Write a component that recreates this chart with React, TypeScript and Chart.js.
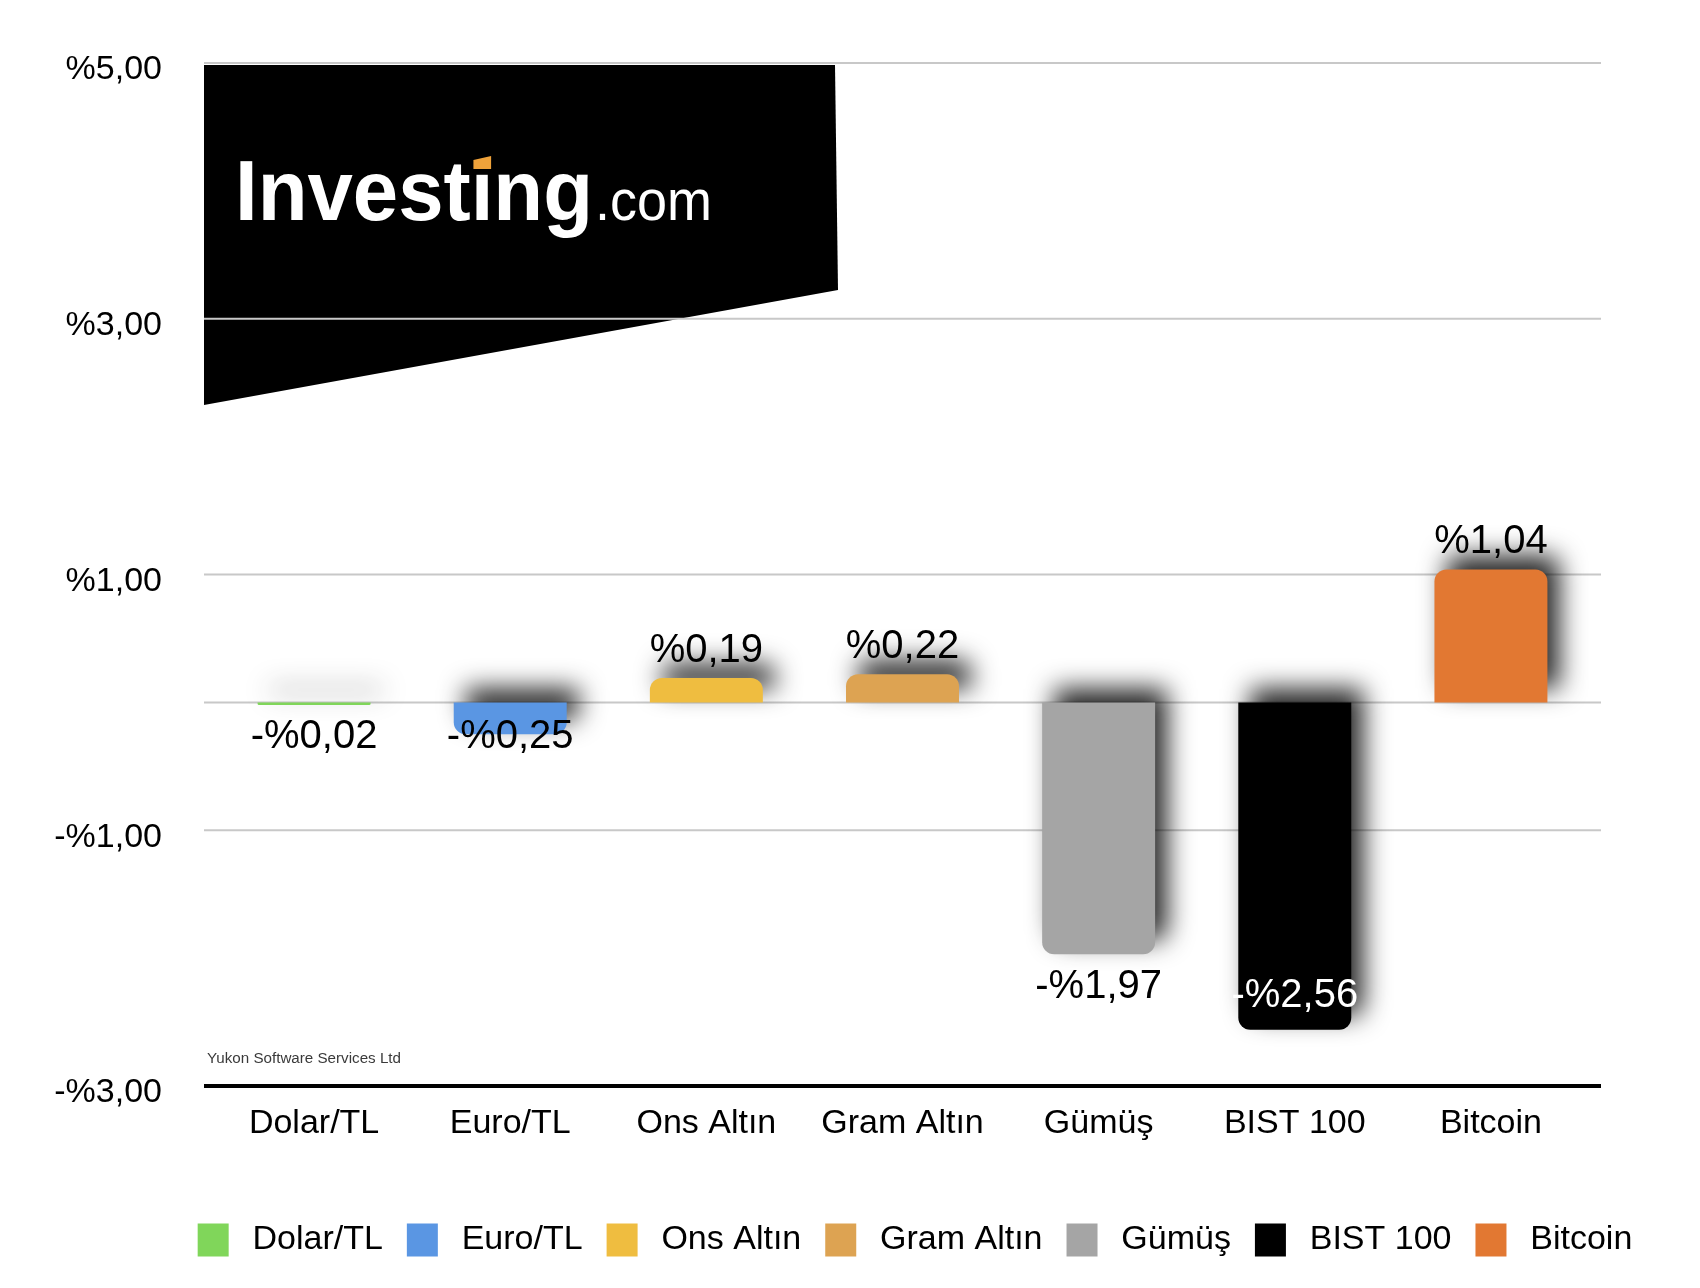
import React, { useEffect, useRef } from 'react';
import { Chart, registerables } from 'chart.js';

Chart.register(...registerables);

// ---- data ----
const categories = ['Dolar/TL', 'Euro/TL', 'Ons Altın', 'Gram Altın', 'Gümüş', 'BIST 100', 'Bitcoin'];
const changes = [-0.02, -0.25, 0.19, 0.22, -1.97, -2.56, 1.04];
const barColors = ['#80D65A', '#5A96E3', '#EFBD40', '#DDA352', '#A5A5A5', '#000000', '#E27832'];
const yTicks = [-3, -1, 1, 3, 5];
const gridValues = [5, 3, 1, 0, -1];
const sourceNote = 'Yukon Software Services Ltd';
const logoMain = 'Investıng';
const logoSuffix = '.com';

const FONT = "'Liberation Sans', Arial, Helvetica, sans-serif";
const fmt = (v: number) => (v < 0 ? '-' : '') + '%' + Math.abs(v).toFixed(2).replace('.', ',');

const decorPlugin = {
  id: 'decor',
  afterLayout(chart: any) {
    if (chart.legend) {
      chart.legend.left += 130;
    }
  },
  beforeDatasetsDraw(chart: any) {
    const { ctx, chartArea, scales } = chart;
    const ys = scales.y;
    const gl = chartArea.left - 12;
    const gr = chartArea.right + 12;
    ctx.save();
    // logo panel
    ctx.fillStyle = '#000';
    ctx.beginPath();
    ctx.moveTo(gl, 57);
    ctx.lineTo(827, 57);
    ctx.lineTo(830, 282);
    ctx.lineTo(gl, 397);
    ctx.closePath();
    ctx.fill();
    // logo text
    ctx.fillStyle = '#fff';
    ctx.textBaseline = 'alphabetic';
    ctx.textAlign = 'left';
    ctx.font = `bold 86px ${FONT}`;
    const w = ctx.measureText(logoMain).width;
    const sx = 358 / w;
    const x0 = ctx.measureText('Invest').width;
    const wi = ctx.measureText('ı').width;
    ctx.save();
    ctx.translate(227, 212);
    ctx.scale(sx, 1);
    ctx.fillText(logoMain, 0, 0);
    ctx.fillStyle = '#EFA23A';
    ctx.beginPath();
    ctx.moveTo(x0 + wi * 0.12, -51);
    ctx.lineTo(x0 + wi * 0.12, -60);
    ctx.lineTo(x0 + wi * 0.9, -64);
    ctx.lineTo(x0 + wi * 0.9, -51);
    ctx.closePath();
    ctx.fill();
    ctx.restore();
    ctx.fillStyle = '#fff';
    ctx.font = `58px ${FONT}`;
    const w2 = ctx.measureText(logoSuffix).width;
    ctx.save();
    ctx.translate(587, 212);
    ctx.scale(117 / w2, 1);
    ctx.fillText(logoSuffix, 0, 0);
    ctx.restore();
    // grid lines
    ctx.strokeStyle = '#C8C8C8';
    ctx.lineWidth = 2;
    gridValues.forEach((v) => {
      const py = ys.getPixelForValue(v);
      ctx.beginPath();
      ctx.moveTo(gl, py);
      ctx.lineTo(gr, py);
      ctx.stroke();
    });
    // bottom axis line
    const by = ys.getPixelForValue(ys.min);
    ctx.strokeStyle = '#000';
    ctx.lineWidth = 4;
    ctx.beginPath();
    ctx.moveTo(gl, by);
    ctx.lineTo(gr, by);
    ctx.stroke();
    ctx.restore();
  },
  beforeDatasetDraw(chart: any) {
    const ctx = chart.ctx;
    ctx.save();
    ctx.shadowColor = 'rgba(0,0,0,0.85)';
    ctx.shadowBlur = 26;
    ctx.shadowOffsetX = 12;
    ctx.shadowOffsetY = -14;
  },
  afterDatasetDraw(chart: any) {
    chart.ctx.restore();
  },
  afterDatasetsDraw(chart: any) {
    const { ctx, chartArea, scales } = chart;
    const ys = scales.y;
    const zero = ys.getPixelForValue(0);
    const meta = chart.getDatasetMeta(0);
    ctx.save();
    ctx.font = `40px ${FONT}`;
    ctx.textAlign = 'center';
    ctx.textBaseline = 'middle';
    meta.data.forEach((bar: any, i: number) => {
      const v = changes[i];
      const end = bar.y;
      let y: number;
      let color = '#000';
      if (v >= 0) {
        y = end - 27;
      } else {
        const h = end - zero;
        y = h < 40 ? zero + 35 : end + 33;
        if (y + 22 > chartArea.bottom - 20) {
          y = end - 34;
          color = '#fff';
        }
      }
      ctx.fillStyle = color;
      ctx.fillText(fmt(v), bar.x, y);
    });
    ctx.font = `14px ${FONT}`;
    ctx.textAlign = 'left';
    ctx.fillStyle = '#3A3A3A';
    const nw = ctx.measureText(sourceNote).width;
    ctx.save();
    ctx.translate(chartArea.left - 9, chartArea.bottom - 27);
    ctx.scale(194 / nw, 1);
    ctx.fillText(sourceNote, 0, 0);
    ctx.restore();
    ctx.restore();
  },
};

export default function App() {
  const ref = useRef<HTMLCanvasElement | null>(null);
  useEffect(() => {
    if (!ref.current) return;
    const chart = new Chart(ref.current, {
      type: 'bar',
      data: {
        labels: categories,
        datasets: [
          {
            label: 'Değişim',
            data: changes,
            backgroundColor: barColors,
            borderWidth: 0,
            borderRadius: 12,
            borderSkipped: 'start',
            barPercentage: 0.576,
            categoryPercentage: 1,
          },
        ],
      },
      options: {
        responsive: false,
        devicePixelRatio: 1,
        animation: false,
        layout: { padding: { left: 0, right: 0, top: 55, bottom: 13 } },
        plugins: {
          tooltip: { enabled: false },
          legend: {
            position: 'bottom',
            fullSize: true,
            labels: {
              boxWidth: 31,
              boxHeight: 33,
              padding: 24,
              color: '#000',
              font: { size: 34, family: FONT },
              generateLabels: () =>
                categories.map((c, i) => ({
                  text: '\u2009' + c,
                  fillStyle: barColors[i],
                  strokeStyle: barColors[i],
                  lineWidth: 0,
                  hidden: false,
                  index: i,
                  datasetIndex: 0,
                })),
            },
          },
        },
        scales: {
          x: {
            grid: { display: false, drawTicks: false },
            border: { display: false },
            ticks: {
              color: '#000',
              font: { size: 34, family: FONT },
              padding: 17,
              maxRotation: 0,
              autoSkip: false,
            },
            afterFit: (s: any) => {
              s.height = 113;
              s.paddingLeft = 0;
              s.paddingRight = 0;
            },
          },
          y: {
            min: yTicks[0],
            max: yTicks[yTicks.length - 1],
            afterBuildTicks: (s: any) => {
              s.ticks = yTicks.map((v) => ({ value: v }));
            },
            grid: { display: false, drawTicks: false },
            border: { display: false },
            ticks: {
              color: '#000',
              font: { size: 34, family: FONT },
              padding: 54,
              labelOffset: 7,
              callback: (v: any) => fmt(Number(v)),
            },
            afterFit: (s: any) => {
              s.width = 208;
              s.paddingTop = 0;
              s.paddingBottom = 0;
            },
          },
          y2: {
            position: 'right',
            display: true,
            grid: { display: false, drawTicks: false },
            border: { display: false },
            ticks: { display: false },
            afterFit: (s: any) => {
              s.width = 103;
              s.paddingTop = 0;
              s.paddingBottom = 0;
            },
          },
        },
      },
      plugins: [decorPlugin],
    } as any);
    return () => chart.destroy();
  }, []);
  return <canvas ref={ref} width={1684} height={1272} style={{ display: 'block' }} />;
}
